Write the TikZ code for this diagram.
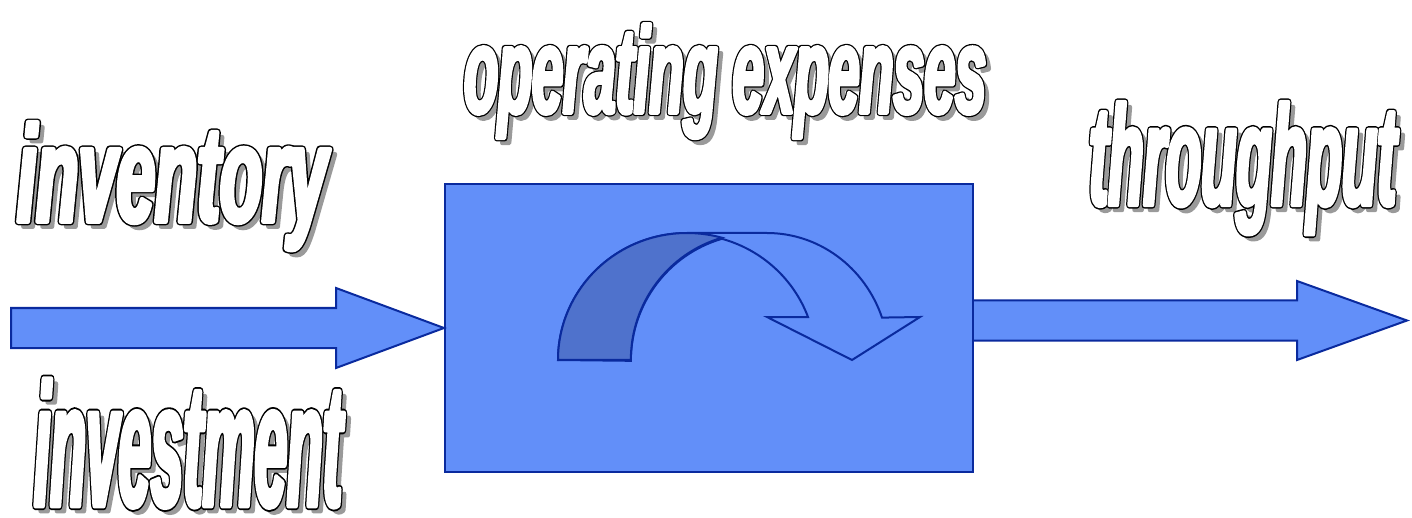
\documentclass[tikz,border=0pt]{standalone}
\usepackage{fontspec}
\setmainfont{Liberation Sans}
\newfontfamily\wordfont{Liberation Sans}[FakeStretch=0.5]
\usepackage{graphicx}
\usepackage{xcolor}
\usetikzlibrary{positioning}
\definecolor{FlowBlue}{HTML}{628FF9}
\definecolor{FlowEdge}{HTML}{0A2A9E}
\definecolor{FlowDark}{HTML}{4F72CC}
\definecolor{ShadowGray}{HTML}{9A9A9A}

% thickened letters: stroked and filled in the current colour
\newcommand\fatletters[2]{\special{pdf:literal direct 2 Tr 1 j #1 w}#2\special{pdf:literal direct 0 Tr 0 j}}
% white letters with a black rim
\newcommand\outlined[1]{\rlap{\color{black}\fatletters{7.5}{#1}}{\color{white}\fatletters{4.5}{#1}}}

\begin{document}
\begin{tikzpicture}[x=1pt, y=-1pt,
  proc/.style={draw=FlowEdge, line width=2pt, fill=FlowBlue, minimum width=528pt, minimum height=288pt, inner sep=0pt},
  blockarrow/.style={draw=FlowEdge, line width=2pt, fill=FlowBlue, line join=miter},
  turnarrow/.style={draw=FlowEdge, line width=2pt, line join=miter},
  word/.style={inner sep=0pt, anchor=north west, font=\wordfont\fontsize{140pt}{140pt}\selectfont\bfseries\itshape},
  wordshadow/.style={word, text=ShadowGray}
]
\useasboundingbox (0,0) rectangle (1412,518);

\node[proc] (process) at (709,328) {};

% flow in and out
\draw[blockarrow] (process.west) -- ++(-108,-40) -- ++(0,20) -- ++(-325,0) -- ++(0,40) -- ++(325,0) -- ++(0,20) -- cycle;
\draw[blockarrow] (process.east |- 0,300.5) -- (1297,300.5) -- (1297,281) -- (1407,320.5) -- (1297,360) -- (1297,340.5) -- (process.east |- 0,340.5);

% turning arrow inside the box
\draw[turnarrow, fill=FlowBlue] (558,360) arc[start angle=180, end angle=270, x radius=129, y radius=127] -- (767,233)
  arc[start angle=270, end angle=340.5, x radius=122, y radius=127] -- (920,317) -- (852,360) -- (767,317) -- (808,317)
  arc[start angle=339.7, end angle=285.7, x radius=129, y radius=127]
  arc[start angle=253.9, end angle=180, x radius=126, y radius=127] -- cycle;
\draw[turnarrow, fill=FlowDark] (558,360) arc[start angle=180, end angle=285.7, x radius=129, y radius=127]
  arc[start angle=253.9, end angle=180, x radius=126, y radius=127] -- cycle;

% labels
\node[wordshadow] (invshadow) at (22,127) {\resizebox*{310pt}{128pt}{\fatletters{4.5}{inventory}}};
\node[word] (inv) at (17,122) {\resizebox*{310pt}{128pt}{\outlined{inventory}}};
\node[wordshadow] (investshadow) at (39,384) {\resizebox*{308pt}{128pt}{\fatletters{4.5}{investment}}};
\node[word] (invest) at (34,379) {\resizebox*{308pt}{128pt}{\outlined{investment}}};
\node[wordshadow] (opexshadow) at (469,29) {\resizebox*{522pt}{114pt}{\fatletters{4.5}{operating expenses}}};
\node[word] (opex) at (464,24) {\resizebox*{522pt}{114pt}{\outlined{operating expenses}}};
\node[wordshadow] (thrushadow) at (1094,107) {\resizebox*{307pt}{132pt}{\fatletters{4.5}{throughput}}};
\node[word] (thru) at (1089,102) {\resizebox*{307pt}{132pt}{\outlined{throughput}}};
\end{tikzpicture}
\end{document}
